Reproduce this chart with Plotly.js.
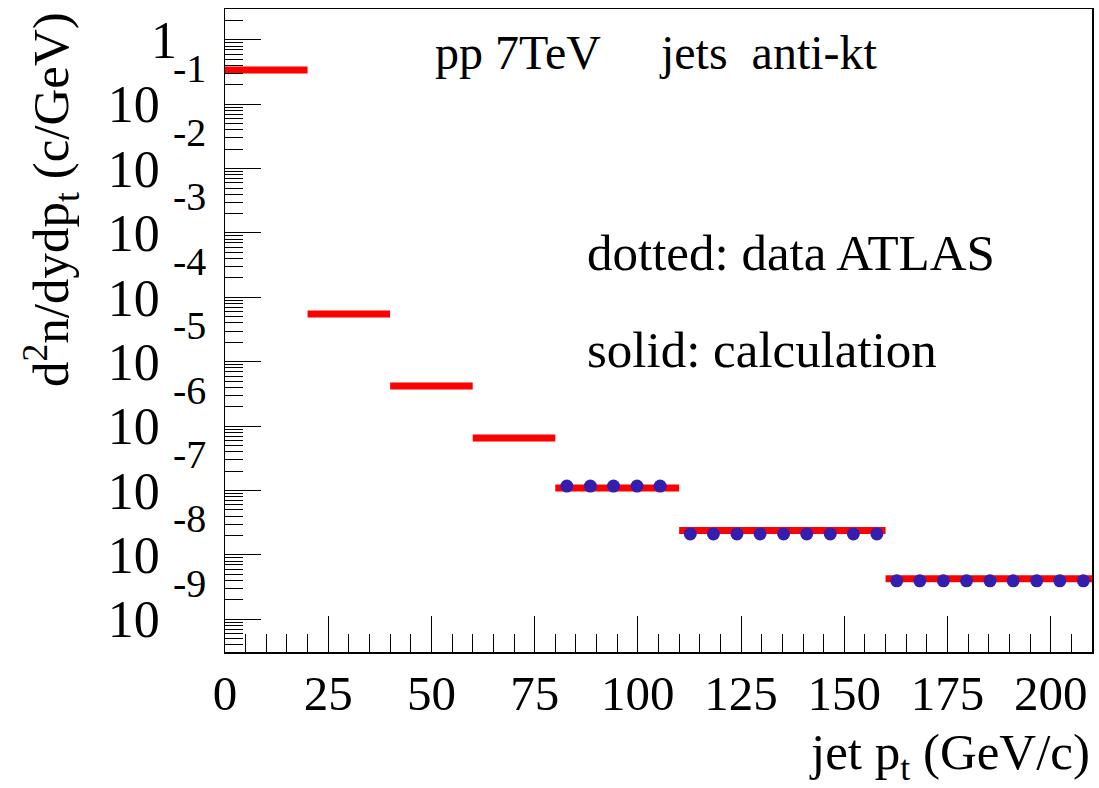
<!DOCTYPE html>
<html>
<head>
<meta charset="utf-8">
<script src="https://cdn.plot.ly/plotly-3.0.1.min.js"></script>
<style>html,body{margin:0;padding:0;background:#fff;}#chart{width:1099px;height:788px;}</style>
</head>
<body>
<div id="chart"></div>
<script>
// Calculation (solid red bins)
const binLow  = [0, 20, 40, 60, 80, 110, 160];
const binHigh = [20, 40, 60, 80, 110, 160, 210];
const calcValues = [0.342, 5.5e-5, 4.19e-6, 6.5e-7, 1.09e-7, 2.39e-8, 4.23e-9];

// ATLAS data points (dotted)
const dataPt = [82.8, 88.5, 94.1, 99.8, 105.4,
                112.7, 118.3, 124.0, 129.6, 135.3, 140.9, 146.6, 152.2, 157.9,
                162.7, 168.3, 174.0, 179.6, 185.3, 190.9, 196.6, 202.2, 207.9];
const dataValues = [1.17e-7, 1.17e-7, 1.17e-7, 1.17e-7, 1.17e-7,
                    2.11e-8, 2.11e-8, 2.11e-8, 2.11e-8, 2.11e-8, 2.11e-8, 2.11e-8, 2.11e-8, 2.11e-8,
                    3.94e-9, 3.94e-9, 3.94e-9, 3.94e-9, 3.94e-9, 3.94e-9, 3.94e-9, 3.94e-9, 3.94e-9];

const xTickVals = [0, 25, 50, 75, 100, 125, 150, 175, 200];
const yExponents = [0, -1, -2, -3, -4, -5, -6, -7, -8, -9];

const FONT = 'Liberation Serif, DejaVu Serif, serif';

// build step segments from bins
const lx = [], ly = [];
binLow.forEach((lo, i) => { lx.push(lo, binHigh[i], null); ly.push(calcValues[i], calcValues[i], null); });

const yTickVals = yExponents.map(e => Math.pow(10, e));
const yTickText = yExponents.map(e => e === 0 ? '1' : '10\u2004');
const yMinor = [];
for (let e = -10; e <= 0; e++) for (let m = 2; m <= 9; m++) yMinor.push(m * Math.pow(10, e));

const traces = [
  { x: lx, y: ly, type: 'scatter', mode: 'lines', line: {color: '#ff0000', width: 7}, hoverinfo: 'skip', showlegend: false },
  { x: dataPt, y: dataValues, type: 'scatter', mode: 'markers', marker: {color: '#341eb0', size: 13}, showlegend: false }
];

const annotations = [];
yExponents.forEach(e => {
  if (e === 0) return;
  annotations.push({ xref: 'paper', yref: 'y', x: -0.02, y: e, xanchor: 'right', yanchor: 'middle', yshift: 36,
    text: String(e), showarrow: false, font: {family: FONT, size: 40, color: '#000'} });
});
annotations.push(
  { xref: 'paper', yref: 'paper', x: (433 - 225) / 867, y: (652 - 52) / 643, xanchor: 'left', yanchor: 'middle',
    text: 'pp 7TeV\u00a0\u00a0\u00a0\u00a0\u00a0jets\u00a0\u00a0anti-kt', showarrow: false, font: {family: FONT, size: 48, color: '#000'} },
  { xref: 'paper', yref: 'paper', x: (585 - 225) / 867, y: (652 - 253) / 643, xanchor: 'left', yanchor: 'middle',
    text: 'dotted: data ATLAS', showarrow: false, font: {family: FONT, size: 51, color: '#000'} },
  { xref: 'paper', yref: 'paper', x: (585 - 225) / 867, y: (652 - 350) / 643, xanchor: 'left', yanchor: 'middle',
    text: 'solid: calculation', showarrow: false, font: {family: FONT, size: 51, color: '#000'} },
  { xref: 'paper', yref: 'paper', x: 1, y: (652 - 756) / 643, xanchor: 'right', yanchor: 'middle',
    text: 'jet p<sub>t</sub> (GeV/c)', showarrow: false, font: {family: FONT, size: 51, color: '#000'} },
  { xref: 'paper', yref: 'paper', x: (51 - 225) / 867, y: (652 - 200) / 643, xanchor: 'center', yanchor: 'middle', textangle: -90,
    text: 'd<sup>2</sup>n/dydp<sub>t</sub> (c/GeV)', showarrow: false, font: {family: FONT, size: 51, color: '#000'} }
);

const layout = {
  width: 1099, height: 788,
  margin: {l: 225, r: 7, t: 9, b: 136, pad: 0},
  paper_bgcolor: '#fff', plot_bgcolor: '#fff',
  showlegend: false,
  font: {family: FONT, color: '#000'},
  xaxis: {
    range: [0, 210], tickmode: 'array', tickvals: xTickVals, ticktext: xTickVals.map(String),
    ticks: 'inside', ticklen: 36, tickwidth: 1, tickcolor: '#000',
    minor: {dtick: 5, ticks: 'inside', ticklen: 18, tickwidth: 1, tickcolor: '#000', showgrid: false},
    showgrid: false, zeroline: false, showline: true, mirror: true, linecolor: '#000', linewidth: 1.5,
    tickfont: {family: FONT, size: 49, color: '#000'}, ticklabelstandoff: -2
  },
  yaxis: {
    type: 'log', range: [-9.51, 0.48], tickmode: 'array', tickvals: yTickVals, ticktext: yTickText,
    ticks: 'inside', ticklen: 36, tickwidth: 1, tickcolor: '#000',
    minor: {tickmode: 'array', tickvals: yMinor, ticks: 'inside', ticklen: 18, tickwidth: 1, tickcolor: '#000', showgrid: false},
    showgrid: false, zeroline: false, showline: true, mirror: true, linecolor: '#000', linewidth: 1.5,
    tickfont: {family: FONT, size: 52, color: '#000'}, ticklabelstandoff: 36
  },
  annotations: annotations
};

Plotly.newPlot('chart', traces, layout, {displayModeBar: false, staticPlot: true});
</script>
</body>
</html>
